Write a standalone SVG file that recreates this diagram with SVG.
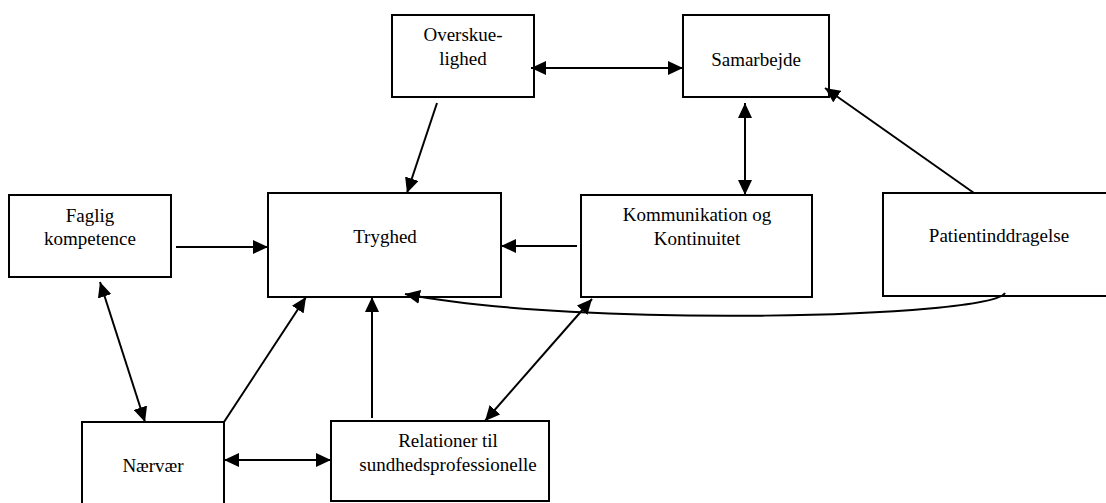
<svg xmlns="http://www.w3.org/2000/svg" width="1106" height="503" viewBox="0 0 1106 503">
<style>
.box{fill:#fff;stroke:#000;stroke-width:2}
.t{font-family:"Liberation Serif","Times New Roman",serif;font-size:19px;fill:#000;text-anchor:middle}
.c{fill:none;stroke:#000;stroke-width:2}
</style>
<defs>
<marker id="ah" markerUnits="userSpaceOnUse" markerWidth="16" markerHeight="14" refX="15" refY="7" orient="auto-start-reverse" viewBox="0 0 16 14">
<path d="M0,0 L15,7 L0,14 Z" fill="#000"/>
</marker>
</defs>
<rect width="1106" height="503" fill="#fff"/>
<g id="overskuelighed"><rect class="box" x="392" y="15" width="142" height="82"/><text class="t" x="463" y="41">Overskue-</text><text class="t" x="463" y="65">lighed</text></g>
<g id="samarbejde"><rect class="box" x="683" y="15" width="146" height="82"/><text class="t" x="756" y="66">Samarbejde</text></g>
<g id="faglig"><rect class="box" x="9" y="195" width="162" height="82"/><text class="t" x="90" y="222">Faglig</text><text class="t" x="90" y="245">kompetence</text></g>
<g id="tryghed"><rect class="box" x="268" y="193" width="233" height="104"/><text class="t" x="385" y="243">Tryghed</text></g>
<g id="kommunikation"><rect class="box" x="581" y="195" width="231" height="102"/><text class="t" x="697" y="221">Kommunikation og</text><text class="t" x="697" y="245">Kontinuitet</text></g>
<g id="patient"><rect class="box" x="883" y="193" width="240" height="103"/><text class="t" x="999" y="242">Patientinddragelse</text></g>
<g id="naervaer"><rect class="box" x="82" y="422" width="142" height="90"/><text class="t" x="153" y="472">Nærvær</text></g>
<g id="relationer"><rect class="box" x="331" y="421" width="218" height="80"/><text class="t" x="448" y="447">Relationer til</text><text class="t" x="448" y="471">sundhedsprofessionelle</text></g>
<g id="connectors">
<line class="c" x1="531" y1="68" x2="683" y2="68" marker-start="url(#ah)" marker-end="url(#ah)"/>
<line class="c" x1="437" y1="103" x2="407" y2="193" marker-end="url(#ah)"/>
<line class="c" x1="745" y1="103" x2="745" y2="195" marker-start="url(#ah)" marker-end="url(#ah)"/>
<line class="c" x1="974" y1="193" x2="825" y2="88" marker-end="url(#ah)"/>
<line class="c" x1="176" y1="247" x2="268" y2="247" marker-end="url(#ah)"/>
<line class="c" x1="577" y1="246" x2="501" y2="246" marker-end="url(#ah)"/>
<path class="c" d="M1005,293 C990,318 580,328 405,294" marker-end="url(#ah)"/>
<line class="c" x1="100" y1="282" x2="145" y2="422" marker-start="url(#ah)" marker-end="url(#ah)"/>
<line class="c" x1="224" y1="422" x2="306" y2="297" marker-end="url(#ah)"/>
<line class="c" x1="372" y1="418" x2="372" y2="297" marker-end="url(#ah)"/>
<line class="c" x1="592" y1="299" x2="485" y2="421" marker-start="url(#ah)" marker-end="url(#ah)"/>
<line class="c" x1="224" y1="460" x2="331" y2="460" marker-start="url(#ah)" marker-end="url(#ah)"/>
</g>
</svg>
